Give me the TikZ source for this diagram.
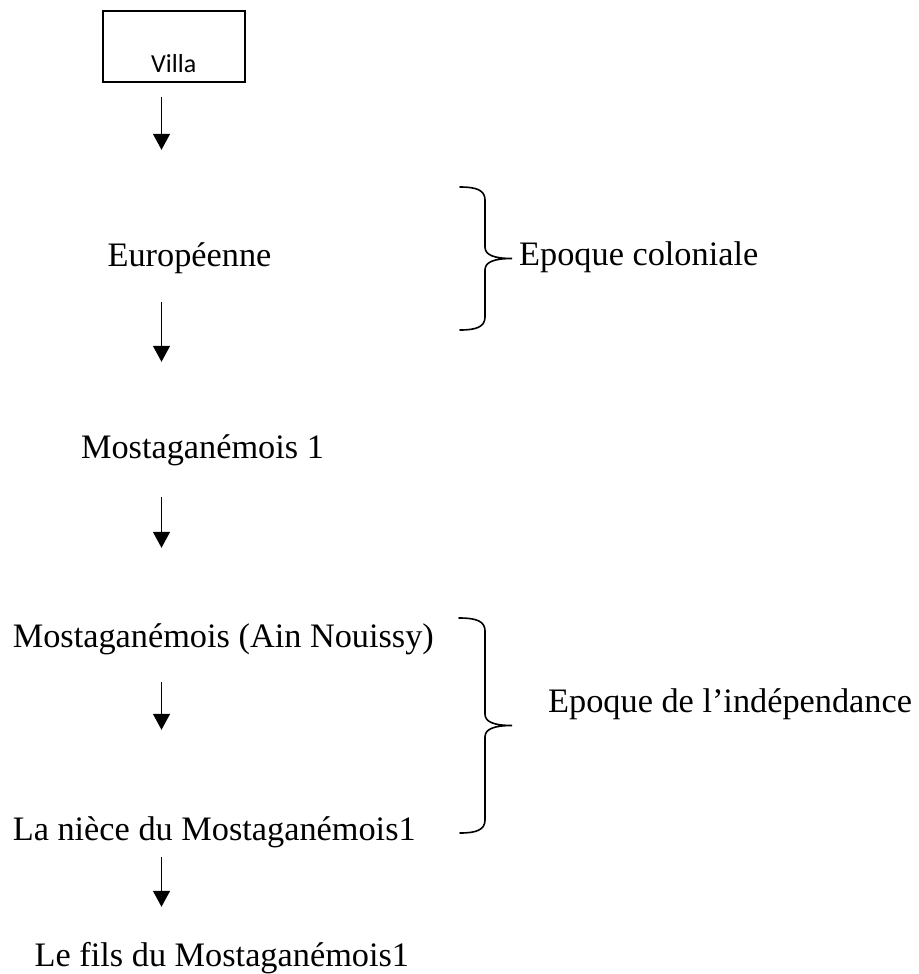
\documentclass[tikz,border=0pt]{standalone}
\usepackage{fontspec}
\setmainfont{Liberation Serif}
\newfontfamily\boxfont{Carlito}
\usetikzlibrary{arrows.meta}
\begin{document}
\begin{tikzpicture}[x=1pt,y=-1pt,
  txt/.style={inner sep=0pt, text height=24pt, text depth=8pt,
    font=\fontsize{34.3pt}{40pt}\selectfont},
  framebox/.style={draw, line width=2pt, inner sep=0pt, minimum width=142pt,
    text height=61.7pt, text depth=9pt, font=\boxfont\fontsize{26pt}{30pt}\selectfont},
  arr/.style={line width=1.3pt, -{Triangle[width=17pt,length=16pt]}},
  bracepath/.style={line width=1.6pt, line cap=round}]
\useasboundingbox (0,0) rectangle (918,974);

% column on which the downward arrows run
\coordinate (spine) at (161.5,0);

% chain of owners
\node[framebox, anchor=base] (villa) at (173.7,72.7) {Villa};
\node[txt, anchor=base] (euro) at (189.5,266) {Européenne};
\node[txt, anchor=base] (mosta1) at (202.5,458) {Mostaganémois 1};
\node[txt, anchor=base west] (ain) at (12.6,647) {Mostaganémois (Ain Nouissy)};
\node[txt, anchor=base west] (niece) at (12.6,840) {La nièce du Mostaganémois1};
\node[txt, anchor=base west] (fils) at (34.5,966) {Le fils du Mostaganémois1};

% period labels
\node[txt, anchor=base west] (colon) at (519,265) {Epoque coloniale};
\node[txt, anchor=base west] (indep) at (548,712) {Epoque de l’indépendance};

% arrows between successive owners
\draw[arr, shorten <=14pt, shorten >=92pt] (villa.south -| spine) -- (euro.north -| spine);
\draw[arr, shorten <=28pt, shorten >=72pt] (euro.south -| spine) -- (mosta1.north -| spine);
\draw[arr, shorten <=31pt, shorten >=75pt] (mosta1.south -| spine) -- (ain.north -| spine);
\draw[arr, shorten <=27pt, shorten >=86pt] (ain.south -| spine) -- (niece.north -| spine);
\draw[arr, shorten <=9pt, shorten >=35pt] (niece.south -| spine) -- (fils.north -| spine);

% brace for the colonial period
\draw[bracepath] (460,187) .. controls (476,187) and (485,190) .. (485,200)
  -- (485,247) .. controls (485,255) and (494,258.5) .. (512,258.5)
  .. controls (494,258.5) and (485,262) .. (485,270)
  -- (485,317) .. controls (485,327) and (476,330) .. (460,330);

% brace for the independence period
\draw[bracepath] (459,618) .. controls (476,618) and (485,621) .. (485,631)
  -- (485,714) .. controls (485,722) and (494,725.5) .. (512,725.5)
  .. controls (494,725.5) and (485,729) .. (485,737)
  -- (485,820) .. controls (485,830) and (476,833) .. (460,833);
\end{tikzpicture}
\end{document}
